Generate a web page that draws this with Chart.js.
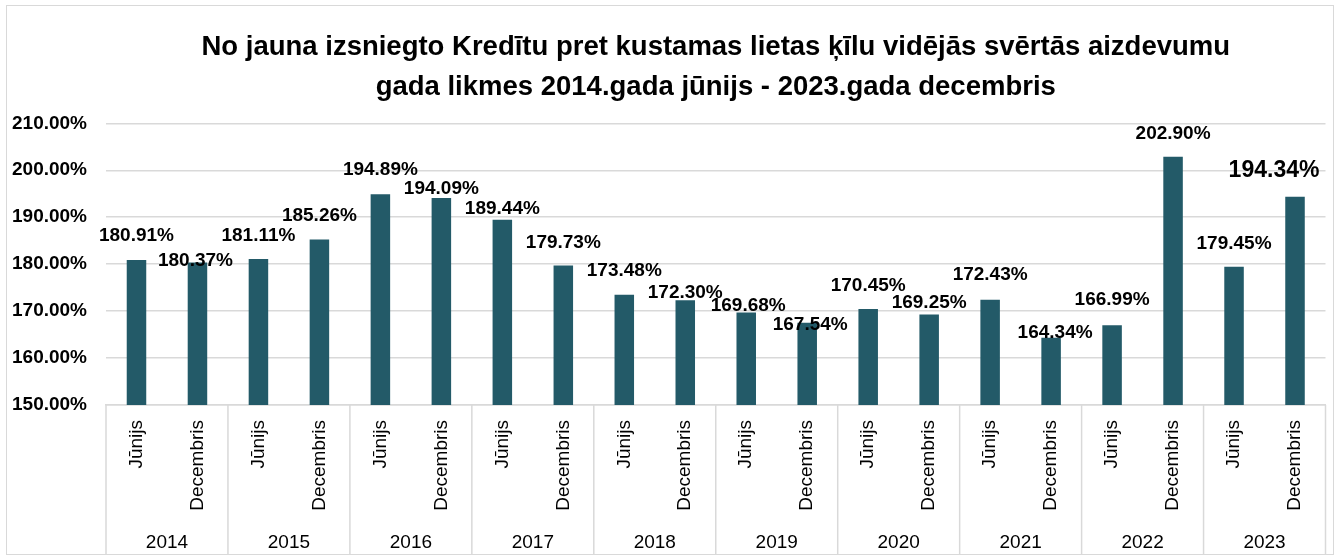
<!DOCTYPE html>
<html>
<head>
<meta charset="utf-8">
<script src="https://cdn.jsdelivr.net/npm/chart.js@4"></script>
<style>
  html, body { margin: 0; padding: 0; background: #fff; }
  #wrap {
    position: absolute; left: 6px; top: 5px;
    width: 1326px; height: 548px;
    border: 1px solid #d9d9d9;
  }
</style>
</head>
<body>
<div id="wrap"><canvas id="likmes"></canvas></div>
<script>
const years = ['2014', '2015', '2016', '2017', '2018', '2019', '2020', '2021', '2022', '2023'];
const halves = ['Jūnijs', 'Decembris'];
const categories = years.flatMap(() => halves);
const rates = [180.91, 180.37, 181.11, 185.26, 194.89, 194.09, 189.44, 179.73, 173.48, 172.30,
               169.68, 167.54, 170.45, 169.25, 172.43, 164.34, 166.99, 202.90, 179.45, 194.34];
const yMin = 150, yMax = 210, yStep = 10;

// label nudges (px) relative to bar top, as placed in the original
const labelDy = [-24, -2, -23, -24, -24, -9, -11, -23, -24, -8, -7, 2, -23, -12, -25, -5, -25, -23, -23, -26];
const labelDx = [0, -2, 0, 0, 0, 0, 0, 0, 0, 0, 2, 3, 0, 0, 0, 4, 0, 0, 0, -21];

const FONT = "'Liberation Sans', Arial, sans-serif";

const valueLabels = {
  id: 'valueLabels',
  afterDatasetsDraw(chart) {
    const ctx = chart.ctx;
    const bars = chart.getDatasetMeta(0).data;
    ctx.save();
    ctx.fillStyle = '#000';
    ctx.textAlign = 'center';
    ctx.textBaseline = 'middle';
    bars.forEach((bar, i) => {
      const big = i === bars.length - 1;
      ctx.font = 'bold ' + (big ? 23 : 19) + 'px ' + FONT;
      ctx.fillText(rates[i].toFixed(2) + '%', bar.x + labelDx[i], bar.y + labelDy[i]);
    });
    ctx.restore();
  }
};

// year separators running through both label rows
const yearLines = {
  id: 'yearLines',
  afterDraw(chart) {
    const x = chart.scales.x;
    const ctx = chart.ctx;
    ctx.save();
    ctx.strokeStyle = '#d9d9d9';
    ctx.lineWidth = 1.5;
    for (let i = 0; i <= years.length; i++) {
      let px;
      if (i === 0) px = x.left;
      else if (i === years.length) px = x.right;
      else px = (x.getPixelForValue(2 * i - 1) + x.getPixelForValue(2 * i)) / 2;
      ctx.beginPath();
      ctx.moveTo(px, x.top);
      ctx.lineTo(px, chart.height);
      ctx.stroke();
    }
    ctx.restore();
  }
};

new Chart(document.getElementById('likmes'), {
  type: 'bar',
  data: {
    labels: categories,
    datasets: [{
      data: rates,
      backgroundColor: '#235a68',
      barPercentage: 0.32,
      categoryPercentage: 1,
    }]
  },
  options: {
    responsive: true,
    maintainAspectRatio: false,
    animation: false,
    layout: { padding: { top: 0, left: 5, right: 2, bottom: 0 } },
    plugins: {
      legend: { display: false },
      tooltip: { enabled: false },
      title: {
        display: true,
        fullSize: false,
        text: ['No jauna izsniegto Kredītu pret kustamas lietas ķīlu vidējās svērtās aizdevumu',
               'gada likmes 2014.gada jūnijs - 2023.gada decembris'],
        color: '#000',
        font: { family: FONT, size: 27.5, weight: 'bold', lineHeight: 1.46 },
        padding: { top: 21, bottom: 16 }
      }
    },
    scales: {
      y: {
        min: yMin,
        max: yMax,
        afterFit: (s) => { s.width = 94; },
        ticks: {
          stepSize: yStep,
          crossAlign: 'far',
          color: '#000',
          font: { family: FONT, size: 19, weight: 'bold' },
          callback: (v) => v.toFixed(2) + '%'
        },
        grid: { color: '#d9d9d9', lineWidth: 1.5, drawTicks: false },
        border: { display: false }
      },
      x: {
        weight: 0,
        afterFit: (s) => { s.height = 106; },
        ticks: {
          minRotation: 90,
          maxRotation: 90,
          padding: 15,
          autoSkip: false,
          color: '#000',
          font: { family: FONT, size: 19 }
        },
        grid: { display: false, drawTicks: false },
        border: { display: true, color: '#d9d9d9', width: 1.5 }
      },
      x2: {
        type: 'category',
        position: 'bottom',
        weight: 1,
        labels: years,
        offset: true,
        afterFit: (s) => { s.height = 43; },
        ticks: {
          padding: 20,
          color: '#000',
          font: { family: FONT, size: 19 }
        },
        grid: { display: false, drawTicks: false },
        border: { display: false }
      }
    }
  },
  plugins: [valueLabels, yearLines]
});
</script>
</body>
</html>
